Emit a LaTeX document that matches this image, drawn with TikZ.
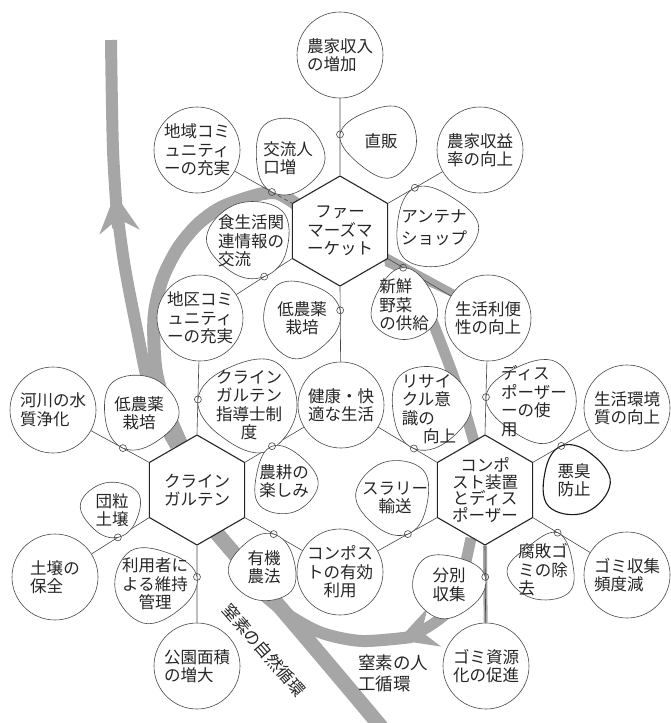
\documentclass[tikz,border=0pt]{standalone}
\usepackage{fontspec}
\setmainfont{Noto Sans CJK JP}
\usetikzlibrary{arrows.meta,shapes.geometric,calc}
\pgfdeclarelayer{bands}
\pgfdeclarelayer{blobs}
\pgfsetlayers{bands,blobs,main}

\colorlet{bandgray}{black!35}
\colorlet{inkgray}{black!72}

% 吹き出し：#2 文字ノード, #3 接点, #4 rx, #5 ry
\newcommand\blob[5][]{%
  \draw[blobline,#1] let \p1=(#2.center), \p3=($(#3)-(#2.center)$), \n1={atan2(\y3,\x3)} in
    plot[smooth cycle,tension=0.7] coordinates {(#3)
      ({\x1+0.86*#4*cos(\n1+52)*1pt},{\y1+0.86*#5*sin(\n1+52)*1pt})
      ({\x1+1.03*#4*cos(\n1+115)*1pt},{\y1+1.03*#5*sin(\n1+115)*1pt})
      ({\x1+0.96*#4*cos(\n1+180)*1pt},{\y1+0.96*#5*sin(\n1+180)*1pt})
      ({\x1+1.04*#4*cos(\n1+245)*1pt},{\y1+1.04*#5*sin(\n1+245)*1pt})
      ({\x1+0.88*#4*cos(\n1+308)*1pt},{\y1+0.88*#5*sin(\n1+308)*1pt})};
  \draw[blobline,fill=none] (#3) circle (3.5);
}

\begin{document}
\begin{tikzpicture}[x=1pt, y=-1pt, line join=round,
  every node/.style={font=\fontsize{16.5}{18.5}\selectfont, text=black!85},
  hexcell/.style={regular polygon, regular polygon sides=6, shape border rotate=30,
    minimum size=110pt, inner sep=0pt, draw=black!85, line width=1.1pt, fill=white, align=center},
  goalcircle/.style={circle, minimum size=86pt, inner sep=0pt, draw=inkgray, line width=0.6pt,
    fill=white, align=center},
  blobtext/.style={align=center, inner sep=0pt},
  link/.style={draw=inkgray, line width=0.6pt},
  blobline/.style={draw=inkgray, line width=0.6pt, fill=white},
  flowband/.style={draw=bandgray, line width=12pt},
  flowtip/.style={-{Stealth[length=38pt,width=40pt,inset=13pt]}}]

  %% ════ 六角形（中心の三つ）════
  \node[hexcell] (fm) at (340,231) {ファー\\マーズマ\\ーケット};
  \node[hexcell] (kg) at (197,490) {クライン\\ガルテン};
  \node[hexcell, font=\fontsize{16.5}{16.5}\selectfont] (cp) at (485,490) {コンポ\\スト装置\\とディス\\ポーザー};

  %% ════ 円（効果）════
  \node[goalcircle, align=left] (c-income) at (340,55) {農家収入\\の増加};
  \node[goalcircle] (c-community1) at (197,150) {地域コミ\\ュニティ\\ーの充実};
  \node[goalcircle] (c-profit) at (480,150) {農家収益\\率の向上};
  \node[goalcircle] (c-community2) at (200,318) {地区コミ\\ュニティ\\ーの充実};
  \node[goalcircle] (c-convenience) at (488,318) {生活利便\\性の向上};
  \node[goalcircle] (c-health) at (341,405) {健康・快\\適な生活};
  \node[goalcircle, align=left] (c-river) at (53,410) {河川の水\\質浄化};
  \node[goalcircle] (c-environment) at (627,408) {生活環境\\質の向上};
  \node[goalcircle, align=left] (c-soil) at (55,577) {土壌の\\保全};
  \node[goalcircle] (c-compostuse) at (340,572) {コンポス\\トの有効\\利用};
  \node[goalcircle, align=left] (c-frequency) at (627,575) {ゴミ収集\\頻度減};
  \node[goalcircle, align=left] (c-park) at (197,666) {公園面積\\の増大};
  \node[goalcircle] (c-gomi) at (486,666) {ゴミ資源\\化の促進};

  %% ════ 吹き出しの文字 ════
  \node[blobtext] (b-chokuhan) at (381,141) {直販};
  \node[blobtext, align=left] (b-kouryu) at (288,158) {交流人\\口増};
  \node[blobtext, font=\fontsize{16.5}{22}\selectfont] (b-antenna) at (434,228) {アンテナ\\ショップ};
  \node[blobtext, align=left] (b-shoku) at (251,241) {食生活関\\連情報の\\交流};
  \node[blobtext] (b-lowpest1) at (302,318) {低農薬\\栽培};
  \node[blobtext, align=left] (b-fresh) at (404,305) {新鮮\\野菜\\の供給};
  \node[blobtext] (b-shidou) at (249,405) {クライン\\ガルテン\\指導士制\\度};
  \node[blobtext] (b-lowpest2) at (139,413) {低農薬\\栽培};
  \node[blobtext] (b-nouko) at (284,481) {農耕の\\楽しみ};
  \node[blobtext] (b-danryu) at (112,510) {団粒\\土壌};
  \node[blobtext] (b-riyou) at (155,584) {利用者に\\よる維持\\管理};
  \node[blobtext] (b-yuki) at (264,567) {有機\\農法};
  \node[blobtext, align=left] (b-disposer) at (534,401) {ディス\\ポーザー\\ーの使\\用};
  \node[blobtext, align=left] (b-recycle) at (429,409) {リサイ\\クル意\\識の\\\hspace*{1.3em}向上};
  \node[blobtext] (b-akushu) at (574,480) {悪臭\\防止};
  \node[blobtext] (b-slurry) at (395,498) {スラリー\\輸送};
  \node[blobtext] (b-bunbetsu) at (449,585) {分別\\収集};
  \node[blobtext, align=left] (b-fuhai) at (543,570) {腐敗ゴ\\ミの除\\去};

  %% ════ 窒素循環の文字 ════
  \node[rotate=-49] (lbl-natural) at (264,650) {窒素の自然循環};
  \node[align=left, font=\fontsize{17.5}{21}\selectfont] (lbl-artificial) at (393,673) {窒素の人\\工循環};

  %% ════ 接点（線上の小さな輪）════
  \coordinate (t-chokuhan) at ($(fm.90)!0.34!(c-income)$);
  \coordinate (t-kouryu) at ($(fm.150)!0.21!(c-community1)$);
  \coordinate (t-antenna) at ($(fm.30)!0.29!(c-profit)$);
  \coordinate (t-shoku) at ($(fm.210)!0.3!(c-community2)$);
  \coordinate (t-lowpest1) at ($(fm.270)!0.2!(c-health)$);
  \coordinate (t-fresh) at ($(fm.330)!0.15!(c-convenience)$);
  \coordinate (t-shidou) at ($(kg.90)!0.3!(c-community2)$);
  \coordinate (t-lowpest2) at ($(kg.150)!0.27!(c-river)$);
  \coordinate (t-nouko) at ($(kg.30)!0.28!(c-health)$);
  \coordinate (t-danryu) at ($(kg.210)!0.33!(c-soil)$);
  \coordinate (t-riyou) at ($(kg.270)!0.26!(c-park)$);
  \coordinate (t-yuki) at ($(kg.330)!0.3!(c-compostuse)$);
  \coordinate (t-disposer) at ($(cp.90)!0.32!(c-convenience)$);
  \coordinate (t-recycle) at ($(cp.150)!0.24!(c-health)$);
  \coordinate (t-akushu) at ($(cp.30)!0.3!(c-environment)$);
  \coordinate (t-slurry) at ($(cp.210)!0.3!(c-compostuse)$);
  \coordinate (t-bunbetsu) at ($(cp.270)!0.26!(c-gomi)$);
  \coordinate (t-fuhai) at ($(cp.330)!0.26!(c-frequency)$);

  \begin{pgfonlayer}{bands}
    \fill[white] (0,0) rectangle (671,723);

    %% ════ 灰色の帯（窒素の流れ）════
    \draw[flowband, line width=15pt] (214,530) .. controls (262,586) and (322,656) .. (382,728);
    \draw[flowband, flowtip] plot[smooth] coordinates {(176,446) (152,398) (137,330) (124,262) (115,194)};
    \draw[flowband] plot[smooth] coordinates {(118,228) (113,150) (111,40)};
    \draw[flowband, line width=13pt] plot[smooth] coordinates {(183,447) (168,412) (156,370) (154,318)
      (162,280) (178,248) (198,224) (222,207) (257,195) (277,193) (296,204)};
    \fill[bandgray] (383,251) -- (455,290) -- (452,297) -- (385,266) -- cycle;
    \draw[flowband, line width=11pt] plot[smooth] coordinates {(400,266) (420,292) (433,323) (450,367) (462,401) (474,442)};
    \draw[flowband, line width=11pt, flowtip] plot[smooth] coordinates {(471,538) (464,570) (455,603) (441,618) (421,631) (398,640)};
    \draw[flowband] plot[smooth] coordinates {(412,637) (362,641) (322,633) (290,616) (266,597)};
    \draw[bandgray, line width=4pt] (cp.270) -- (c-gomi);

    %% ════ 六角形の頂点から円へ ════
    \draw[link] (fm.90) -- (c-income);
    \draw[link] (c-community1) -- (t-kouryu);
    \draw[link, dash pattern=on 4pt off 3pt] (t-kouryu) -- (fm.150);
    \draw[link] (fm.30) -- (c-profit);
    \draw[link] (fm.210) -- (c-community2);
    \draw[link] (fm.270) -- (c-health);
    \draw[link] (fm.330) -- (c-convenience);
    \draw[link] (kg.90) -- (c-community2);
    \draw[link] (kg.150) -- (c-river);
    \draw[link] (kg.30) -- (c-health);
    \draw[link] (kg.210) -- (c-soil);
    \draw[link] (kg.270) -- (c-park);
    \draw[link] (kg.330) -- (c-compostuse);
    \draw[link] (cp.90) -- (c-convenience);
    \draw[link] (cp.150) -- (c-health);
    \draw[link] (cp.30) -- (c-environment);
    \draw[link] (cp.210) -- (c-compostuse);
    \draw[link] (cp.270) -- (c-gomi);
    \draw[link] (cp.330) -- (c-frequency);
  \end{pgfonlayer}

  %% ════ 吹き出しの輪郭 ════
  \begin{pgfonlayer}{blobs}
    \blob{b-chokuhan}{t-chokuhan}{37}{37}
    \blob{b-kouryu}{t-kouryu}{36}{41}
    \blob{b-antenna}{t-antenna}{43}{40}
    \blob{b-shoku}{t-shoku}{43}{41}
    \blob{b-lowpest1}{t-lowpest1}{40}{40}
    \blob{b-fresh}{t-fresh}{34}{36}
    \blob{b-shidou}{t-shidou}{50}{48}
    \blob{b-lowpest2}{t-lowpest2}{39}{39}
    \blob{b-nouko}{t-nouko}{33}{34}
    \blob{b-danryu}{t-danryu}{31}{29}
    \blob{b-riyou}{t-riyou}{42}{39}
    \blob{b-yuki}{t-yuki}{35}{35}
    \blob{b-disposer}{t-disposer}{44}{43}
    \blob{b-recycle}{t-recycle}{41}{44}
    \blob[draw=black!90, line width=1.1pt]{b-akushu}{t-akushu}{35}{36}
    \blob{b-slurry}{t-slurry}{38}{39}
    \blob{b-bunbetsu}{t-bunbetsu}{38}{33}
    \blob{b-fuhai}{t-fuhai}{35}{31}
  \end{pgfonlayer}

  \pgfresetboundingbox
  \path[use as bounding box] (0,0) rectangle (671,723);
\end{tikzpicture}
\end{document}
